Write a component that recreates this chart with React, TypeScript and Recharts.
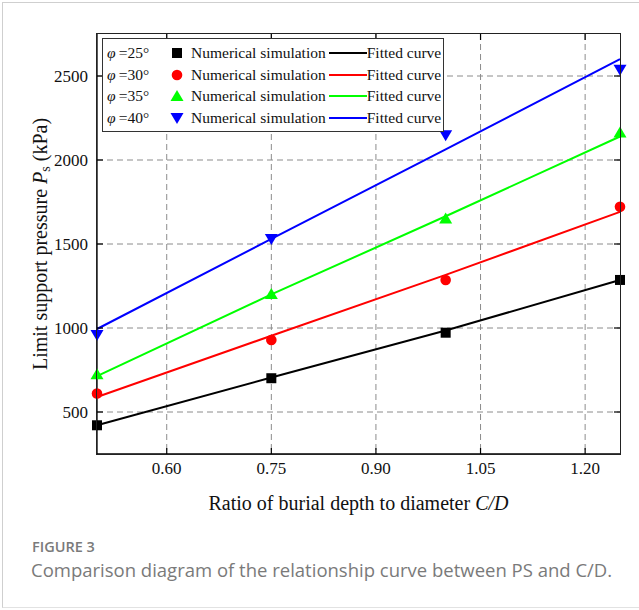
import React from "react";
import {
  ComposedChart,
  Line,
  Scatter,
  XAxis,
  YAxis,
  CartesianGrid,
  Legend,
} from "recharts";

// ---- data ----
const xValues = [0.5, 0.75, 1.0, 1.25];
const xTicks = [0.6, 0.75, 0.9, 1.05, 1.2];
const yTicks = [500, 1000, 1500, 2000, 2500];
const xDomain = [0.5, 1.25];
const yDomain = [250, 2750];

const sim25 = [421, 701, 972, 1286];
const sim30 = [610, 929, 1286, 1721];
const sim35 = [725, 1203, 1652, 2163];
const sim40 = [958, 1530, 2147, 2537];

const fit25 = [421, 705, 985, 1286];
const fit30 = [589, 954, 1316, 1691];
const fit35 = [713, 1200, 1665, 2140];
const fit40 = [994, 1530, 2063, 2601];

const angles = ["25", "30", "35", "40"];
const colors = ["#000000", "#ff0000", "#00ff00", "#0000ff"];
const markerKinds = ["square", "circle", "triangle", "down"];
const simSeries = [sim25, sim30, sim35, sim40];
const fitSeries = [fit25, fit30, fit35, fit40];

const toRows = (vals: number[]) => xValues.map((x, i) => ({ x, y: vals[i] }));

const SERIF = "'Liberation Serif', 'Times New Roman', serif";
const SANS = "'Open Sans', 'Noto Sans', sans-serif";

// chart geometry (layout only)
const CHART_W = 639;
const CHART_H = 520;
const M_TOP = 34;
const M_RIGHT = 19;
const Y_AXIS_W = 97;
const X_AXIS_H = 66;

function Marker({ cx, cy, kind, color }: any) {
  if (cx == null || cy == null) return null;
  if (kind === "square") {
    return <rect x={cx - 5} y={cy - 5} width={10} height={10} fill={color} />;
  }
  if (kind === "circle") {
    return <circle cx={cx} cy={cy} r={5.3} fill={color} />;
  }
  if (kind === "triangle") {
    return (
      <polygon
        points={`${cx},${cy - 6} ${cx - 6.5},${cy + 5} ${cx + 6.5},${cy + 5}`}
        fill={color}
      />
    );
  }
  return (
    <polygon
      points={`${cx},${cy + 6} ${cx - 6.5},${cy - 5} ${cx + 6.5},${cy - 5}`}
      fill={color}
    />
  );
}

const XTick = (props: any) => {
  const { x, y, payload } = props;
  return (
    <g>
      <line x1={x} y1={y} x2={x} y2={y - 6} stroke="#000" strokeWidth={1.2} />
      <line
        x1={x}
        y1={M_TOP}
        x2={x}
        y2={M_TOP + 6}
        stroke="#000"
        strokeWidth={1.2}
      />
      <text
        x={x}
        y={y + 20}
        textAnchor="middle"
        fontFamily={SERIF}
        fontSize={17}
        fill="#111"
      >
        {Number(payload.value).toFixed(2)}
      </text>
    </g>
  );
};

const YTick = (props: any) => {
  const { x, y, payload } = props;
  const rightX = CHART_W - M_RIGHT;
  return (
    <g>
      <line x1={x} y1={y} x2={x + 6} y2={y} stroke="#000" strokeWidth={1.2} />
      <line
        x1={rightX}
        y1={y}
        x2={rightX - 6}
        y2={y}
        stroke="#000"
        strokeWidth={1.2}
      />
      <text
        x={x - 9}
        y={y + 6}
        textAnchor="end"
        fontFamily={SERIF}
        fontSize={17}
        fill="#111"
      >
        {payload.value}
      </text>
    </g>
  );
};

const YTitle = (props: any) => {
  const vb = props.viewBox || { x: 0, y: 34, width: 97, height: 420 };
  const cx = 40;
  const cy = vb.y + vb.height / 2;
  return (
    <text
      x={cx}
      y={cy}
      transform={`rotate(-90, ${cx}, ${cy})`}
      textAnchor="middle"
      dominantBaseline="central"
      fontFamily={SERIF}
      fontSize={20}
      fill="#111"
    >
      <tspan>Limit support pressure </tspan>
      <tspan fontStyle="italic">P</tspan>
      <tspan fontSize={14} dy={5}>s</tspan>
      <tspan dy={-5}> (kPa)</tspan>
    </text>
  );
};

const XTitle = (props: any) => {
  const vb = props.viewBox || { x: 97, y: 454, width: 523, height: 66 };
  const cx = vb.x + vb.width / 2;
  return (
    <text
      x={cx}
      y={510}
      textAnchor="middle"
      fontFamily={SERIF}
      fontSize={20}
      fill="#111"
    >
      <tspan>Ratio of burial depth to diameter </tspan>
      <tspan fontStyle="italic">C/D</tspan>
    </text>
  );
};

const LegendBox = () => (
  <div
    style={{
      border: "1.2px solid #333",
      background: "#fff",
      padding: "3px 2px 2px 4px",
      fontFamily: SERIF,
      fontSize: 15.5,
      color: "#111",
      lineHeight: "21.7px",
      whiteSpace: "nowrap",
    }}
  >
    {angles.map((a, i) => (
      <div key={a} style={{ display: "flex", alignItems: "center", height: 21.7 }}>
        <span style={{ width: 58 }}>
          <i>φ</i>&thinsp;=
          {a}°
        </span>
        <svg width={24} height={16} style={{ marginRight: 2 }}>
          <Marker cx={12} cy={8} kind={markerKinds[i]} color={colors[i]} />
        </svg>
        <span>Numerical simulation</span>
        <svg width={38} height={16} style={{ margin: "0 0 0 3px" }}>
          <line x1={0} y1={8} x2={38} y2={8} stroke={colors[i]} strokeWidth={2} />
        </svg>
        <span>Fitted curve</span>
      </div>
    ))}
  </div>
);

export default function App() {
  const plotW = CHART_W - M_RIGHT - Y_AXIS_W;
  const plotH = CHART_H - M_TOP - X_AXIS_H;
  return (
    <div
      style={{
        position: "absolute",
        left: 0,
        top: 0,
        width: 639,
        height: 610,
        background: "#fff",
        overflow: "hidden",
      }}
    >
      <div
        style={{
          position: "absolute",
          left: 2,
          top: 2,
          width: 640,
          height: 604,
          borderLeft: "1px solid #cfcfcf",
          borderTop: "1px solid #cfcfcf",
          borderBottom: "1px solid #e2e2e2",
        }}
      />
      <div style={{ position: "absolute", left: 0, top: 0 }}>
        <ComposedChart
          width={CHART_W}
          height={CHART_H}
          margin={{ top: M_TOP, right: M_RIGHT, left: 0, bottom: 0 }}
        >
          <CartesianGrid
            stroke="#8c8c8c"
            strokeDasharray="6 4"
            strokeWidth={1}
            horizontalValues={yTicks}
            verticalValues={xTicks}
          />
          <XAxis
            dataKey="x"
            type="number"
            domain={xDomain}
            ticks={xTicks}
            interval={0}
            height={X_AXIS_H}
            tickSize={0}
            tickMargin={0}
            tickLine={false}
            tick={<XTick />}
            axisLine={{ stroke: "#000", strokeWidth: 1.3 }}
            label={<XTitle />}
          />
          <YAxis
            dataKey="y"
            type="number"
            domain={yDomain}
            ticks={yTicks}
            interval={0}
            width={Y_AXIS_W}
            tickSize={0}
            tickMargin={0}
            tickLine={false}
            tick={<YTick />}
            axisLine={{ stroke: "#000", strokeWidth: 1.3 }}
            label={<YTitle />}
          />
          {fitSeries.map((vals, i) => (
            <Line
              key={`fit-${i}`}
              data={toRows(vals)}
              dataKey="y"
              type="linear"
              stroke={colors[i]}
              strokeWidth={2}
              dot={false}
              activeDot={false}
              isAnimationActive={false}
              legendType="none"
            />
          ))}
          {simSeries.map((vals, i) => (
            <Scatter
              key={`sim-${i}`}
              data={toRows(vals)}
              dataKey="y"
              fill={colors[i]}
              isAnimationActive={false}
              legendType="none"
              shape={(p: any) => (
                <Marker cx={p.cx} cy={p.cy} kind={markerKinds[i]} color={colors[i]} />
              )}
            />
          ))}
          <Legend
            layout="horizontal"
            verticalAlign="middle"
            align="center"
            content={() => <LegendBox />}
            wrapperStyle={{ top: 38, left: 102, width: "auto", height: "auto" }}
          />
        </ComposedChart>
      </div>
      {/* plot frame */}
      <div
        style={{
          position: "absolute",
          left: Y_AXIS_W - 0.65,
          top: M_TOP - 0.65,
          width: plotW,
          height: plotH,
          border: "1.3px solid #222",
          boxSizing: "content-box",
          pointerEvents: "none",
        }}
      />
      <div
        style={{
          position: "absolute",
          left: 32,
          top: 537,
          fontFamily: SANS,
          fontSize: 14.5,
          fontWeight: 600,
          color: "#7a7a7a",
        }}
      >
        FIGURE 3
      </div>
      <div
        style={{
          position: "absolute",
          left: 31,
          top: 557,
          fontFamily: SANS,
          fontSize: 18.5,
          color: "#7a7a7a",
          whiteSpace: "nowrap",
        }}
      >
        Comparison diagram of the relationship curve between PS and C/D.
      </div>
    </div>
  );
}
